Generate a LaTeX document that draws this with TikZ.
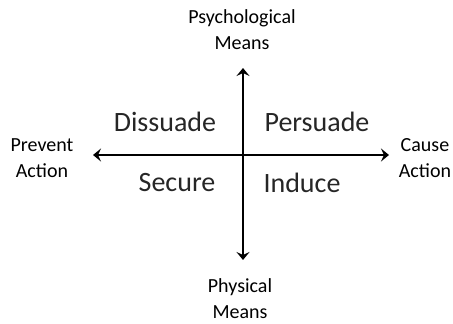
\documentclass[tikz,border=0pt]{standalone}
\usepackage{fontspec}
\setmainfont{Carlito}
\usetikzlibrary{arrows.meta}
\begin{document}
\begin{tikzpicture}[x=1pt,y=-1pt,
  axis/.style={line width=1.6pt,-{Stealth[length=8pt,width=13pt,inset=3pt]}},
  small/.style={font=\fontsize{20}{26}\selectfont,align=center,text=black,inner sep=0pt},
  big/.style={font=\fontsize{28}{32}\selectfont,text=black!85,inner sep=0pt}]
\useasboundingbox (0,0) rectangle (453,324);
\coordinate (c) at (243,155);
\coordinate (t) at (243,68);
\coordinate (b) at (243,260);
\coordinate (l) at (93,155);
\coordinate (r) at (389,155);
\draw[axis] (c) -- (t);
\draw[axis] (c) -- (b);
\draw[axis] (c) -- (l);
\draw[axis] (c) -- (r);
\node[small] (psy) at (242,30) {Psychological\\Means};
\node[small] (phy) at (240,299) {Physical\\Means};
\node[small] (prev) at (42,158) {Prevent\\Action};
\node[small] (cause) at (425,158) {Cause\\Action};
\node[big] (dis) at (165,122) {Dissuade};
\node[big] (per) at (317,122) {Persuade};
\node[big] (sec) at (177,183) {Secure};
\node[big] (ind) at (302,183) {Induce};
\end{tikzpicture}
\end{document}
